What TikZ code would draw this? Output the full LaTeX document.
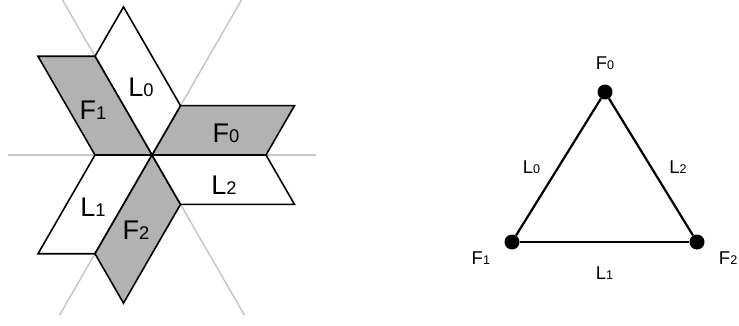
\documentclass[tikz,border=0pt]{standalone}
\usepackage{fontspec}
\setmainfont{Liberation Sans}
\usetikzlibrary{positioning, calc}
\newcommand{\ix}[2]{#1\scalebox{0.68}{#2}}

\begin{document}
\begin{tikzpicture}[
    x=1pt, y=1pt,
    face/.style={draw, line width=1.6pt, line join=miter, fill=white},
    shaded/.style={face, fill=black!30},
    axis/.style={black!22, line width=1.5pt},
    big/.style={font=\fontsize{27}{27}\selectfont, inner sep=0pt},
    small/.style={font=\fontsize{18.5}{18.5}\selectfont},
    dot/.style={circle, fill=black, inner sep=0pt, minimum size=15pt},
    edge/.style={line width=2.2pt}
]
    \clip (0,0) rectangle (739,325);
    \coordinate (c) at (152,170);

    % guide lines through the centre
    \draw[axis] ($(c)+(180:144)$) -- ($(c)+(0:164)$);
    \draw[axis] ($(c)+(60:190)$) -- ($(c)+(240:185)$);
    \draw[axis] ($(c)+(120:190)$) -- ($(c)+(300:185)$);

    % six parallelograms
    \draw[shaded] (c) -- ++(0:114) -- ++(60:57) -- ++(180:114) -- cycle;
    \draw[face] (c) -- ++(60:57) -- ++(120:114) -- ++(240:57) -- cycle;
    \draw[shaded] (c) -- ++(120:114) -- ++(180:57) -- ++(300:114) -- cycle;
    \draw[face] (c) -- ++(180:57) -- ++(240:114) -- ++(0:57) -- cycle;
    \draw[shaded] (c) -- ++(240:114) -- ++(300:57) -- ++(60:114) -- cycle;
    \draw[face] (c) -- ++(300:57) -- ++(0:114) -- ++(120:57) -- cycle;

    \node[big] (tf0) at (226,192) {\ix{F}{0}};
    \node[big] (tl0) at (141,238) {\ix{L}{0}};
    \node[big] (tf1) at (93,215) {\ix{F}{1}};
    \node[big] (tl1) at (93,118) {\ix{L}{1}};
    \node[big] (tf2) at (136,95) {\ix{F}{2}};
    \node[big] (tl2) at (224,140) {\ix{L}{2}};

    % triangle
    \node[dot] (f0) at (605,233) {};
    \node[dot] (f1) at (512,83) {};
    \node[dot] (f2) at (697,83) {};
    \node[small] (nf0) [above=11pt of f0] {\ix{F}{0}};
    \node[small] (nf1) [below left=1pt and 13pt of f1] {\ix{F}{1}};
    \node[small] (nf2) [below right=1pt and 13pt of f2] {\ix{F}{2}};

    \draw[edge] (f0) -- node[small, left=14pt] {\ix{L}{0}} (f1);
    \draw[edge] (f1) -- node[small, below=20pt] {\ix{L}{1}} (f2);
    \draw[edge] (f2) -- node[small, right=14pt] {\ix{L}{2}} (f0);
\end{tikzpicture}
\end{document}
